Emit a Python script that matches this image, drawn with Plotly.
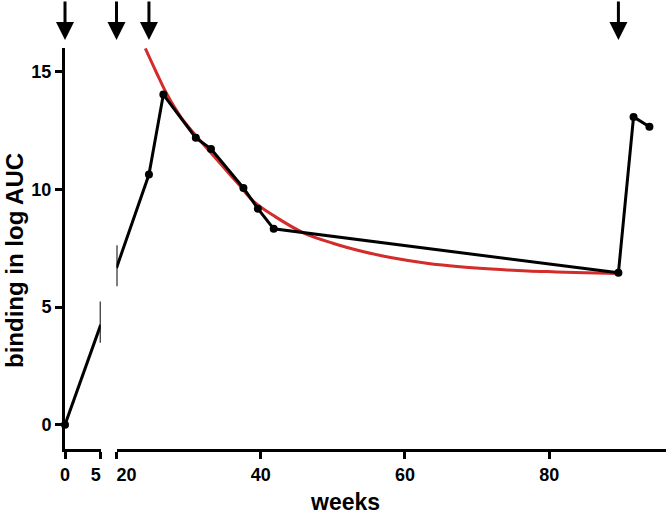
import plotly.graph_objects as go

# observed points (weeks, binding in log AUC)
obs_weeks = [0, 24.5, 26.5, 31.0, 33.1, 37.6, 39.6, 41.8, 89.6, 91.7, 93.9]
obs_values = [0, 10.64, 14.04, 12.2, 11.73, 10.07, 9.19, 8.33, 6.46, 13.09, 12.67]

# line values where the line meets the axis break, with break marks
break_weeks = [5, 20]
break_values = [4.25, 6.67]
break_upper = [5.24, 7.63]
break_lower = [3.49, 5.89]

# fitted decay curve
fit_weeks = [24, 25.5, 27, 29, 31, 33, 35, 37, 39, 42, 46, 50, 54, 58, 63, 68, 72, 77, 81, 85, 89.6]
fit_values = [16.0, 15.0, 14.05, 13.05, 12.3, 11.6, 10.9, 10.2, 9.5, 8.85, 8.15, 7.72, 7.38,
              7.11, 6.87, 6.71, 6.62, 6.54, 6.5, 6.46, 6.43]

# immunisation arrows
arrow_weeks = [0, 20, 24.5, 89.6]

x1_ticks = [0, 5]
x1_labels = ["\u20070", "5"]
x2_ticks = [20, 40, 60, 80]
x2_labels = ["20", "40\u2007\u2007", "60\u2007\u2007", "80\u2007\u2007"]
y_ticks = [0, 5, 10, 15]

BLACK = "#000000"
RED = "#d42b2b"
FONT = "Liberation Sans"

fig = go.Figure()

# segment 1 (0-5 weeks)
seg1_x = [w for w in obs_weeks if w <= 5] + [break_weeks[0]]
seg1_y = [v for w, v in zip(obs_weeks, obs_values) if w <= 5] + [break_values[0]]
fig.add_trace(go.Scatter(x=seg1_x, y=seg1_y, mode="lines", line=dict(color=BLACK, width=3),
                         xaxis="x", yaxis="y", cliponaxis=False, showlegend=False))
fig.add_trace(go.Scatter(x=[w for w in obs_weeks if w <= 5],
                         y=[v for w, v in zip(obs_weeks, obs_values) if w <= 5],
                         mode="markers", marker=dict(color=BLACK, size=8),
                         xaxis="x", yaxis="y", cliponaxis=False, showlegend=False))

# segment 2 (20+ weeks)
seg2_x = [break_weeks[1]] + [w for w in obs_weeks if w >= 20]
seg2_y = [break_values[1]] + [v for w, v in zip(obs_weeks, obs_values) if w >= 20]
fig.add_trace(go.Scatter(x=fit_weeks, y=fit_values, mode="lines", line=dict(color=RED, width=3, shape="spline"),
                         xaxis="x2", yaxis="y", cliponaxis=False, showlegend=False))
fig.add_trace(go.Scatter(x=seg2_x, y=seg2_y, mode="lines", line=dict(color=BLACK, width=3),
                         xaxis="x2", yaxis="y", cliponaxis=False, showlegend=False))
fig.add_trace(go.Scatter(x=[w for w in obs_weeks if w >= 20],
                         y=[v for w, v in zip(obs_weeks, obs_values) if w >= 20],
                         mode="markers", marker=dict(color=BLACK, size=8),
                         xaxis="x2", yaxis="y", cliponaxis=False, showlegend=False))

# break marks
for i, ax in enumerate(["x", "x2"]):
    fig.add_trace(go.Scatter(
        x=[break_weeks[i]], y=[break_values[i]], mode="markers",
        marker=dict(size=0.1, color=BLACK),
        error_y=dict(type="data", symmetric=False,
                     array=[break_upper[i] - break_values[i]],
                     arrayminus=[break_values[i] - break_lower[i]],
                     color=BLACK, thickness=2, width=0),
        xaxis=ax, yaxis="y", cliponaxis=False, showlegend=False))

tickfont = dict(family=FONT, size=18, color=BLACK, weight="bold")
axis_common = dict(showline=True, linewidth=3, linecolor=BLACK, ticks="outside", ticklen=7,
                   tickwidth=2.5, tickcolor=BLACK, showgrid=False, zeroline=False, tickfont=tickfont)

plot_l, plot_r, plot_t, plot_b = 65, 666, 48, 449
pw = plot_r - plot_l
ph = plot_b - plot_t
fig.update_layout(
    width=666, height=519,
    margin=dict(l=plot_l, r=666 - plot_r, t=plot_t, b=519 - plot_b, autoexpand=False),
    paper_bgcolor="white", plot_bgcolor="white",
    xaxis=dict(domain=[0, (100.7 - plot_l) / pw], range=[0, 5], tickvals=x1_ticks, ticktext=x1_labels,
               ticklabelshift=-5, anchor="y", **axis_common),
    xaxis2=dict(domain=[(116.5 - plot_l) / pw, 1], range=[20, 96.2], tickvals=x2_ticks, ticktext=x2_labels,
                ticklabelshift=10, anchor="y", **axis_common),
    yaxis=dict(range=[-1.03, 16.02], tickvals=y_ticks, anchor="x", **axis_common),
)

fig.add_annotation(text="binding in log AUC", xref="paper", yref="paper",
                   x=(14 - plot_l) / pw, y=1 - (261 - plot_t) / ph, textangle=-90,
                   showarrow=False, font=dict(family=FONT, size=24, color=BLACK, weight="bold"),
                   xanchor="center", yanchor="middle")

fig.add_annotation(text="weeks", xref="paper", yref="paper", x=(345 - plot_l) / pw, y=1 - (502 - plot_t) / ph,
                   showarrow=False, font=dict(family=FONT, size=23, color=BLACK, weight="bold"),
                   yanchor="middle", xanchor="center")

for w in arrow_weeks:
    fig.add_annotation(x=w, y=1.02, xref="x" if w <= 5 else "x2", yref="paper", text="",
                       showarrow=True, arrowhead=2, arrowsize=1.2, arrowwidth=3, arrowcolor=BLACK,
                       ax=0, ay=-45)

fig.write_html("out.html", post_script="document.body.style.margin='0';",
               config={"displayModeBar": False})
